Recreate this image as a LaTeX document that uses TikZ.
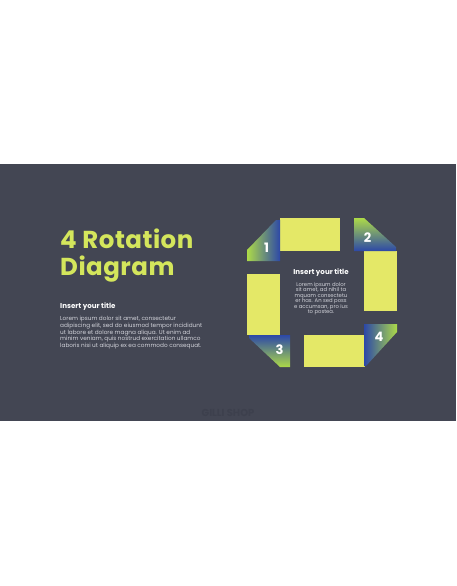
\documentclass[tikz,border=0pt]{standalone}
\usepackage{fontspec}
\setmainfont{Poppins}

\definecolor{slide}{HTML}{434653}
\definecolor{lime}{HTML}{D4E65C}
\definecolor{bar}{HTML}{E4E867}
\definecolor{turngreen}{HTML}{ADDA48}
\definecolor{turnblue}{HTML}{2C48A8}
\definecolor{copy}{HTML}{D2D3DA}
\definecolor{mark}{HTML}{3D404D}

\tikzset{
  barbox/.style={fill=bar},
  numlabel/.style={text=white, font=\bfseries\fontsize{13}{13}\selectfont, inner sep=0pt},
  bodytext/.style={text=copy, inner sep=0pt},
  headtext/.style={anchor=base west, inner sep=0pt, text=lime, font=\bfseries\fontsize{24.5}{27}\selectfont\addfontfeature{LetterSpace=2}}
}

\begin{document}
\begin{tikzpicture}[x=1pt,y=-1pt]
    \useasboundingbox (0,0) rectangle (456,586);
    \fill[white] (0,0) rectangle (456,586);
    \fill[slide] (0,164) rectangle (456,421);

    % left column
    \node[headtext] (head1) at (60,248) {4 Rotation};
    \node[headtext] (head2) at (60,275) {Diagram};
    \node[anchor=base west, inner sep=0pt, text=white, font=\bfseries\fontsize{7.1}{8}\selectfont] (lefttitle) at (60,308) {Insert your title};
    \node[bodytext, anchor=north west, align=left, font=\fontsize{5.75}{6.8}\selectfont] (lefttext) at (60,316) {Lorem ipsum dolor sit amet, consectetur\\adipiscing elit, sed do eiusmod tempor incididunt\\ut labore et dolore magna aliqua. Ut enim ad\\minim veniam, quis nostrud exercitation ullamco\\laboris nisi ut aliquip ex ea commodo consequat.};

    % bars
    \fill[barbox] (280,218) rectangle (340,251);
    \fill[barbox] (364,251) rectangle (397,311);
    \fill[barbox] (304,335) rectangle (365,367);
    \fill[barbox] (247,274) rectangle (280,335);

    % turning corners
    \shade[left color=turngreen, right color=turnblue] (247,250) -- (276,220) -- (280,220) -- (280,261) -- (247,261) -- cycle;
    \shade[top color=turngreen, bottom color=turnblue] (354,218) -- (364,218) -- (396,247) -- (396,251) -- (354,251) -- cycle;
    \shade[bottom color=turngreen, top color=turnblue] (280,367) -- (249,338) -- (249,335) -- (290,335) -- (290,367) -- cycle;
    \shade[right color=turngreen, left color=turnblue] (364,324) -- (397,324) -- (397,332) -- (366,366) -- (364,366) -- cycle;

    \node[numlabel] (n1) at (266.5,248) {1};
    \node[numlabel] (n2) at (367.5,237.5) {2};
    \node[numlabel] (n3) at (279.5,349.5) {3};
    \node[numlabel] (n4) at (379,337) {4};

    % centre text
    \node[anchor=base, inner sep=0pt, text=white, font=\bfseries\fontsize{7.1}{8}\selectfont] (midtitle) at (321,274.5) {Insert your title};
    \node[bodytext, anchor=north, align=center, font=\fontsize{5.3}{5.5}\selectfont] (midtext) at (321,282) {Lorem ipsum dolor\\sit amet, ad nihil ta\\mquam consectetu\\er has. An sed poss\\e accumsan, pro ius\\to postea.};

    \node[anchor=base, inner sep=0pt, text=mark, font=\bfseries\fontsize{10}{10}\selectfont] (shop) at (228,416) {GILLI SHOP};
\end{tikzpicture}
\end{document}
